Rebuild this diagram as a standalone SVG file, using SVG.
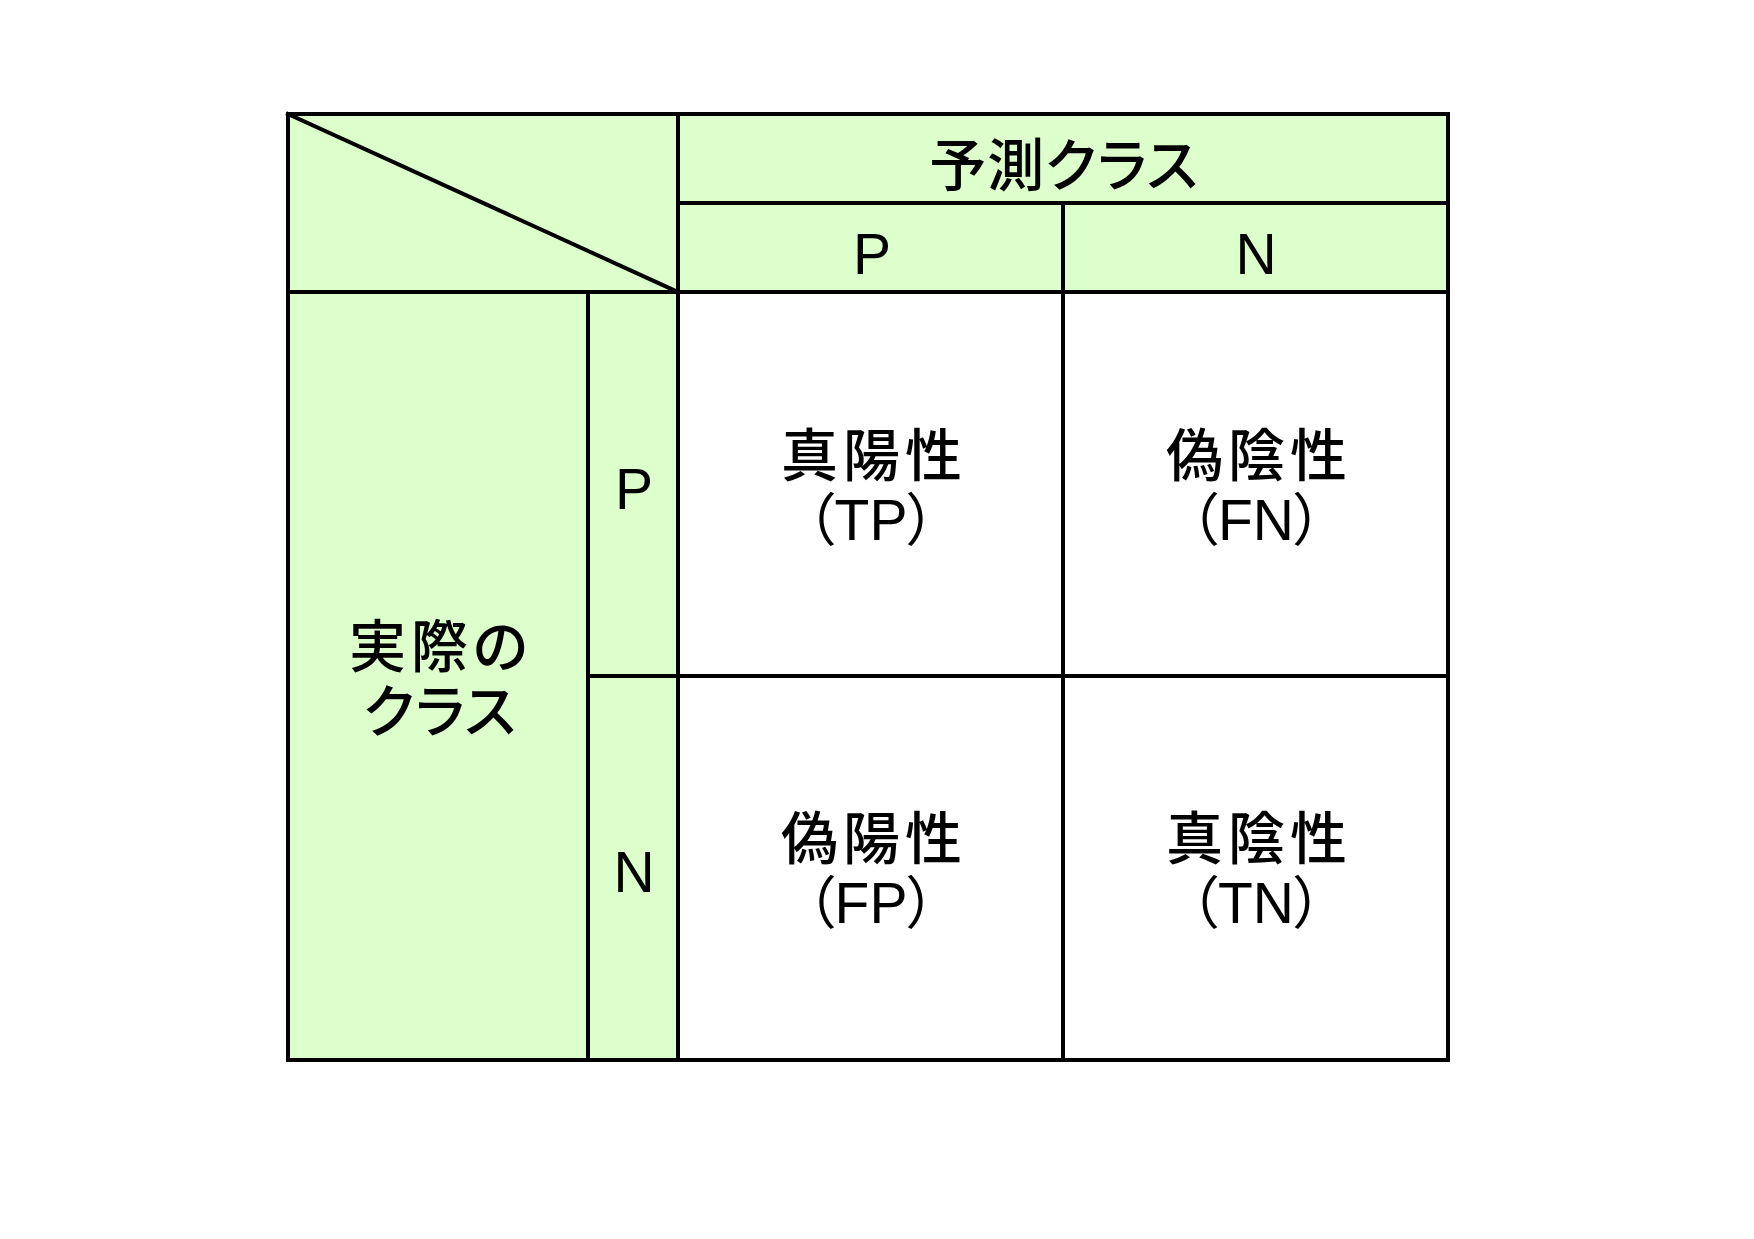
<svg xmlns="http://www.w3.org/2000/svg" width="1754" height="1239" viewBox="0 0 1754 1239">
<style>
.hdr{fill:#DDFFCC;stroke:none}
.ln{stroke:#000;stroke-width:4;fill:none;stroke-linecap:square}
.jp{font-family:"Noto Sans CJK JP","Noto Sans CJK SC",sans-serif;font-size:57px;font-weight:500;fill:#000;text-anchor:middle;font-feature-settings:"palt"}
.kj{letter-spacing:5px}
.lt{font-family:"Liberation Sans","Noto Sans CJK JP",sans-serif;font-size:57px;fill:#000;text-anchor:middle;font-feature-settings:"palt"}
</style>
<rect width="1754" height="1239" fill="#fff"/>
<g id="corner">
<rect class="hdr" x="288" y="114" width="390" height="178"/>
</g>
<g id="pred-header">
<rect class="hdr" x="678" y="114" width="770" height="89"/>
<text class="jp" x="1064" y="186" letter-spacing="1">予測クラス</text>
</g>
<g id="pred-p">
<rect class="hdr" x="678" y="203" width="385" height="89"/>
<text class="lt" x="872" y="274">P</text>
</g>
<g id="pred-n">
<rect class="hdr" x="1063" y="203" width="385" height="89"/>
<text class="lt" x="1256" y="274">N</text>
</g>
<g id="actual-header">
<rect class="hdr" x="288" y="292" width="300" height="768"/>
<text class="jp kj" x="441" y="667">実際の</text>
<text class="jp" x="440" y="732" letter-spacing="1">クラス</text>
</g>
<g id="actual-p">
<rect class="hdr" x="588" y="292" width="90" height="384"/>
<text class="lt" x="634" y="509">P</text>
</g>
<g id="actual-n">
<rect class="hdr" x="588" y="676" width="90" height="384"/>
<text class="lt" x="634" y="892">N</text>
</g>
<g id="tp">
<text class="jp kj" x="874" y="476">真陽性</text>
<text class="lt" x="871" y="540">（TP）</text>
</g>
<g id="fn">
<text class="jp kj" x="1259" y="476">偽陰性</text>
<text class="lt" x="1256" y="540">（FN）</text>
</g>
<g id="fp">
<text class="jp kj" x="874" y="859">偽陽性</text>
<text class="lt" x="871" y="923">（FP）</text>
</g>
<g id="tn">
<text class="jp kj" x="1259" y="859">真陰性</text>
<text class="lt" x="1256" y="923">（TN）</text>
</g>
<g id="connectors">
<rect class="ln" x="288" y="114" width="1160" height="946"/>
<line class="ln" x1="288" y1="114" x2="678" y2="292"/>
<line class="ln" x1="678" y1="114" x2="678" y2="1060"/>
<line class="ln" x1="678" y1="203" x2="1448" y2="203"/>
<line class="ln" x1="288" y1="292" x2="1448" y2="292"/>
<line class="ln" x1="1063" y1="203" x2="1063" y2="1060"/>
<line class="ln" x1="588" y1="292" x2="588" y2="1060"/>
<line class="ln" x1="588" y1="676" x2="1448" y2="676"/>
</g>
</svg>
